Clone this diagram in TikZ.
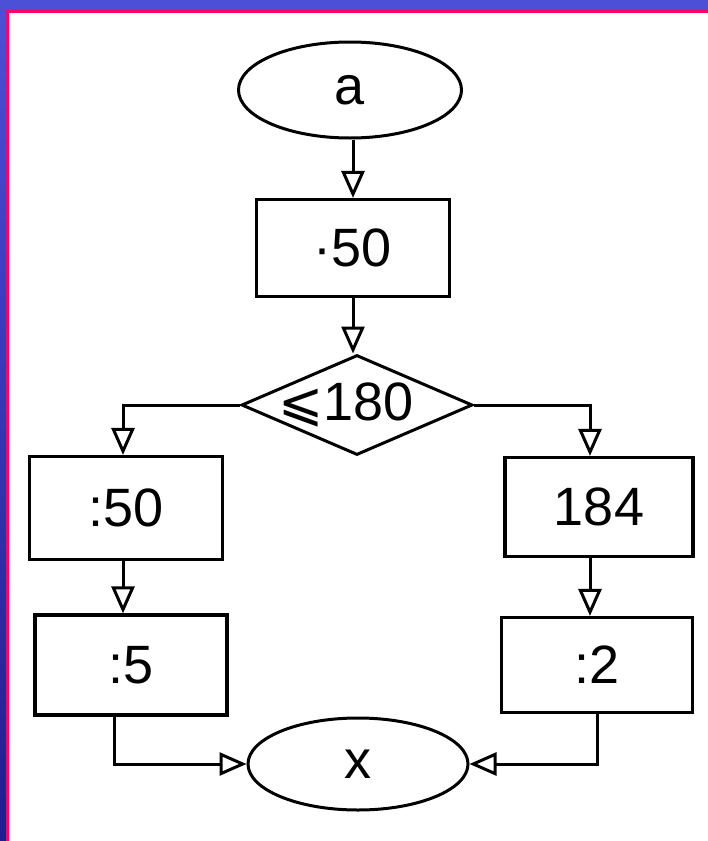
\documentclass[tikz,border=0pt]{standalone}
\usepackage{fontspec}
\setmainfont{Liberation Sans}
\newfontfamily\symfont{DejaVu Sans}
\usetikzlibrary{shapes.geometric,arrows.meta}
\definecolor{bgblue}{RGB}{75,80,215}
\definecolor{bgdark}{RGB}{30,30,140}
\definecolor{framepink}{RGB}{255,0,102}
\begin{document}
\begin{tikzpicture}[x=1pt,y=-1pt,
  lbl/.style={font=\fontsize{54}{60}\selectfont, inner sep=0pt},
  procbox/.style={draw, rectangle, inner sep=0pt, line width=3.2pt, lbl},
  term/.style={draw, ellipse, inner sep=0pt, line width=3pt, lbl},
  condbox/.style={draw, diamond, inner sep=0pt, line width=3pt},
  arr/.style={line width=3pt, -{Triangle[open,length=27pt,width=23pt,line width=3pt]}},
  link/.style={line width=3pt}]
% background and frame
\useasboundingbox (0,0) rectangle (708,841);
\shade[top color=bgblue, bottom color=bgdark] (0,0) rectangle (708,841);
\fill[framepink] (6,10) rectangle (708,841);
\fill[white] (8.5,12.5) rectangle (708,841);
% nodes
\node[term, minimum width=223pt, minimum height=96pt] (a) at (350,90) {a};
\node[procbox, minimum width=193pt, minimum height=97pt] (mul) at (353,248) {·50};
\node[condbox, minimum width=231pt, minimum height=100pt] (cond) at (357,405) {};
\node[lbl] (condtext) at (346,405) {{\symfont ⩽}180};
\node[procbox, minimum width=193pt, minimum height=103pt] (d50) at (126,508) {:50};
\node[procbox, minimum width=192pt, minimum height=100pt] (d5) at (131,665) {:5};
\node[procbox, minimum width=188pt, minimum height=99pt] (n184) at (599,507) {184};
\node[procbox, minimum width=191pt, minimum height=95pt] (d2) at (597,665) {:2};
\node[term, minimum width=220pt, minimum height=92pt] (x) at (358,764) {x};
% connectors
\draw[arr] (a.south -| mul.north) -- (mul.north);
\draw[arr] (mul.south) -- (mul.south |- cond.north);
\draw[arr] (cond.west) -| ([xshift=-3pt]d50.north);
\draw[arr] (cond.east) -| ([xshift=-9pt]n184.north);
\draw[arr] ([xshift=-3pt]d50.south) -- ([xshift=-3pt]d50.south |- d5.north);
\draw[arr] ([xshift=-9pt]n184.south) -- ([xshift=-9pt]n184.south |- d2.north);
\draw[arr] ([xshift=-17pt]d5.south) |- (x.west);
\draw[arr] (d2.south) |- (x.east);
\end{tikzpicture}
\end{document}
